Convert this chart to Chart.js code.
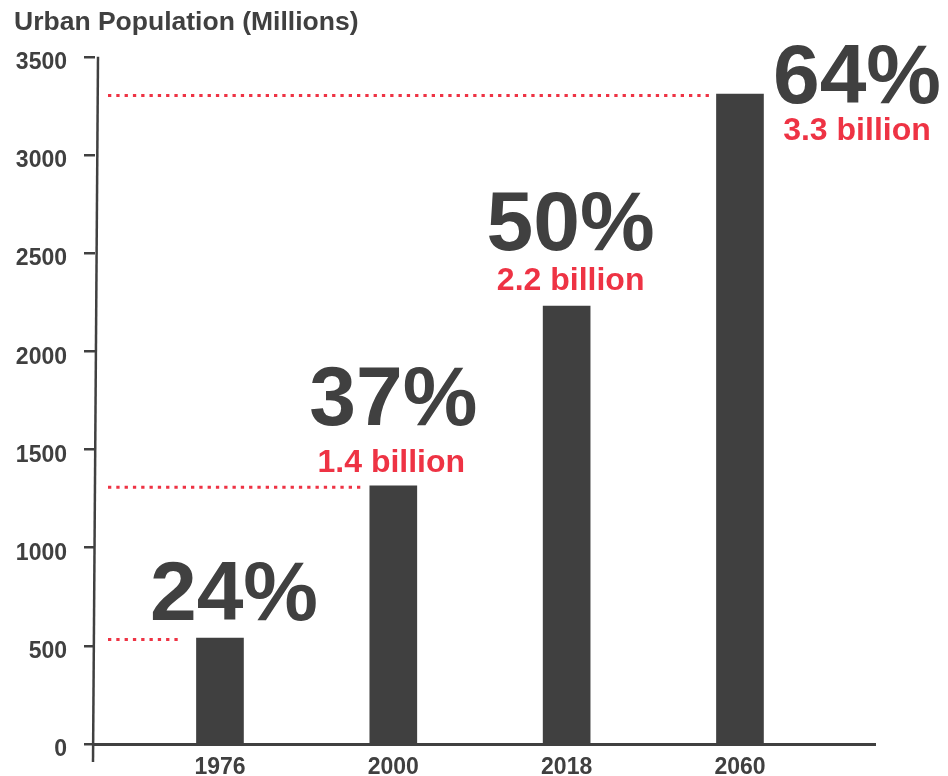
<!DOCTYPE html>
<html>
<head>
<meta charset="utf-8">
<script src="https://cdn.jsdelivr.net/npm/chart.js@4.4.1/dist/chart.umd.min.js"></script>
<style>
  html, body { margin: 0; padding: 0; background: #ffffff; }
  #wrap { width: 948px; height: 776px; }
</style>
</head>
<body>
<div id="wrap"><canvas id="c" width="948" height="776"></canvas></div>
<script>
// ---- data ----
const categories = ['1976', '2000', '2018', '2060'];
const urbanPopulation = [540, 1315, 2230, 3310];          // millions
const shareLabels = ['24%', '37%', '50%', '64%'];
const billionLabels = ['', '1.4 billion', '2.2 billion', '3.3 billion'];
const hasGuideLine = [true, true, false, true];
const yTickValues = [0, 500, 1000, 1500, 2000, 2500, 3000, 3500];
const chartTitle = 'Urban Population (Millions)';

// ---- styling / layout (not data) ----
const DARK = '#404040';
const RED = '#ee3344';
const FONT = '"Liberation Sans", Arial, Helvetica, sans-serif';
const labelLayout = [
  { pctDx: 14,  pctDy: -18, bilDx: 0,   bilDy: 0,   guideGap: 16 },
  { pctDx: 0,   pctDy: -61, bilDx: -2,  bilDy: -14, guideGap: 6 },
  { pctDx: 4,   pctDy: -56, bilDx: 4,   bilDy: -16, guideGap: 0 },
  { pctDx: 117, pctDy: 9,   bilDx: 117, bilDy: 46,  guideGap: 3 }
];

const annotations = {
  id: 'annotations',
  afterDatasetsDraw(chart) {
    const ctx = chart.ctx;
    const xs = chart.scales.x, ys = chart.scales.y;
    const meta = chart.getDatasetMeta(0);
    ctx.save();
    // dotted guide lines
    ctx.strokeStyle = RED;
    ctx.lineWidth = 3;
    ctx.setLineDash([3.3, 5]);
    meta.data.forEach((bar, i) => {
      if (!hasGuideLine[i]) return;
      const y = ys.getPixelForValue(urbanPopulation[i]) + 1.5;
      const left = bar.x - bar.width / 2 - labelLayout[i].guideGap;
      ctx.beginPath();
      ctx.moveTo(chart.chartArea.left + 13, y);
      ctx.lineTo(left, y);
      ctx.stroke();
    });
    ctx.setLineDash([]);
    // labels
    ctx.textAlign = 'center';
    ctx.textBaseline = 'alphabetic';
    meta.data.forEach((bar, i) => {
      const x = xs.getPixelForValue(i);
      const y = ys.getPixelForValue(urbanPopulation[i]);
      const L = labelLayout[i];
      ctx.fillStyle = DARK;
      ctx.font = 'bold 84px ' + FONT;
      ctx.fillText(shareLabels[i], x + L.pctDx, y + L.pctDy);
      if (billionLabels[i]) {
        ctx.fillStyle = RED;
        ctx.font = 'bold 32px ' + FONT;
        ctx.fillText(billionLabels[i], x + L.bilDx, y + L.bilDy);
      }
    });
    ctx.restore();
  },
  afterDraw(chart) {
    // hand-drawn style y axis line
    const ctx = chart.ctx;
    const ca = chart.chartArea;
    ctx.save();
    ctx.strokeStyle = DARK;
    ctx.lineWidth = 2.5;
    ctx.beginPath();
    ctx.moveTo(ca.left + 3, ca.top);
    ctx.lineTo(ca.left - 2, ca.bottom + 18);
    ctx.stroke();
    ctx.restore();
  }
};

new Chart(document.getElementById('c'), {
  type: 'bar',
  data: {
    datasets: [{
      data: urbanPopulation.map((v, i) => ({ x: i, y: v })),
      backgroundColor: DARK,
      borderWidth: 0,
      barThickness: 47
    }]
  },
  options: {
    responsive: false,
    animation: false,
    devicePixelRatio: 1,
    layout: { padding: { left: 14, right: 73, top: 0, bottom: 0 } },
    plugins: {
      legend: { display: false },
      tooltip: { enabled: false },
      title: {
        display: true,
        text: chartTitle,
        align: 'start',
        color: DARK,
        font: { family: FONT, size: 26.5, weight: 'bold' },
        lineHeight: 1.2,
        padding: { top: 7, bottom: 18 }
      }
    },
    scales: {
      x: {
        type: 'linear',
        offset: false,
        min: -0.721,
        max: 3.779,
        grid: { display: false, offset: false },
        border: { display: true, color: DARK, width: 3 },
        afterBuildTicks(scale) { scale.ticks = categories.map((c, i) => ({ value: i })); },
        afterFit(scale) { scale.height = 32; },
        ticks: {
          autoSkip: false,
          maxRotation: 0,
          padding: 2,
          color: DARK,
          font: { family: FONT, size: 23, weight: 'bold' },
          callback: (v) => categories[v]
        }
      },
      y: {
        min: 0,
        max: 3500,
        grid: { drawOnChartArea: false, drawTicks: true, tickLength: 11, color: DARK, lineWidth: 2.5 },
        border: { display: false },
        afterBuildTicks(scale) { scale.ticks = yTickValues.map(v => ({ value: v })); },
        afterFit(scale) { scale.width = 81; },
        ticks: {
          padding: 17,
          labelOffset: 6,
          color: DARK,
          font: { family: FONT, size: 23, weight: 'bold' },
          callback: (v) => String(v)
        }
      }
    }
  },
  plugins: [annotations]
});
</script>
</body>
</html>
